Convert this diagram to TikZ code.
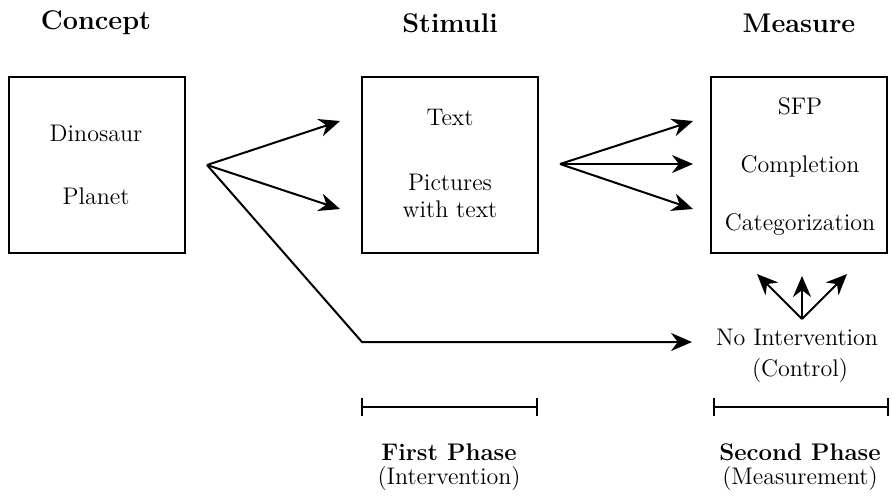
\documentclass[tikz,border=0pt]{standalone}
\usetikzlibrary{arrows.meta, positioning}
\tikzset{
  box/.style={rectangle, draw, line width=1pt, minimum width=88pt,
              minimum height=88pt, inner sep=0pt},
  head/.style={font=\fontsize{13.5}{16}\selectfont\bfseries},
  txt/.style={font=\fontsize{12}{13.5}\selectfont, align=center, inner sep=1pt},
  arrow/.style={-{Stealth[length=10.5pt, width=9pt]}, line width=1pt},
  span/.style={{Bar[width=9pt]}-{Bar[width=9pt]}, line width=1pt},
}

\begin{document}
\begin{tikzpicture}[x=0.5pt, y=-0.5pt]
  \useasboundingbox (0,0) rectangle (892,495);

  %% Column headings
  \node[head] (hconcept) at (96,23)  {Concept};
  \node[head] (hstimuli) at (450,23) {Stimuli};
  \node[head] (hmeasure) at (799,23) {Measure};

  %% Boxes
  \node[box] (concept) at (96.5,164.5) {};
  \node[box] (stimuli) at (450,164.5)  {};
  \node[box] (measure) at (798.5,164.5) {};

  \node[txt] (dino)   at (96,133) {Dinosaur};
  \node[txt] (planet) at (96,196) {Planet};
  \node[txt] (text)   at (450,117) {Text};
  \node[txt] (pict)   at (450,196) {Pictures\\with text};
  \node[txt] (sfp)    at (800,106) {SFP};
  \node[txt] (compl)  at (800,166) {Completion};
  \node[txt] (categ)  at (800,224) {Categorization};

  %% Control condition
  \node[txt] (noint) at (797,337) {No Intervention};
  \node[txt] (ctrl)  at (800,370) {(Control)};

  %% Forks
  \coordinate (fork1) at (207,165);
  \coordinate (fork2) at (560,164);
  \coordinate (fork3) at (802,319);
  \coordinate (bend)  at (362,342);

  \draw[arrow] (fork1) -- (340,121);
  \draw[arrow] (fork1) -- (340,209);
  \draw[arrow] (fork1) -- (bend) -- (692,342);

  \foreach \y in {121,164,209}
    \draw[arrow] (fork2) -- (693,\y);

  \foreach \x/\y in {757/274, 802/276, 847/274}
    \draw[arrow] (fork3) -- (\x,\y);

  %% Phases
  \coordinate (p1a) at (361,407);
  \coordinate (p1b) at (538,407);
  \coordinate (p2a) at (713,407);
  \coordinate (p2b) at (889,407);
  \draw[span] (p1a) -- (p1b);
  \draw[span] (p2a) -- (p2b);

  \node[txt, font=\fontsize{12}{13.5}\selectfont\bfseries] (ph1) at (449,452) {First Phase};
  \node[txt] (ph1s) at (449,478) {(Intervention)};
  \node[txt, font=\fontsize{12}{13.5}\selectfont\bfseries] (ph2) at (800,452) {Second Phase};
  \node[txt] (ph2s) at (800,478) {(Measurement)};
\end{tikzpicture}
\end{document}
